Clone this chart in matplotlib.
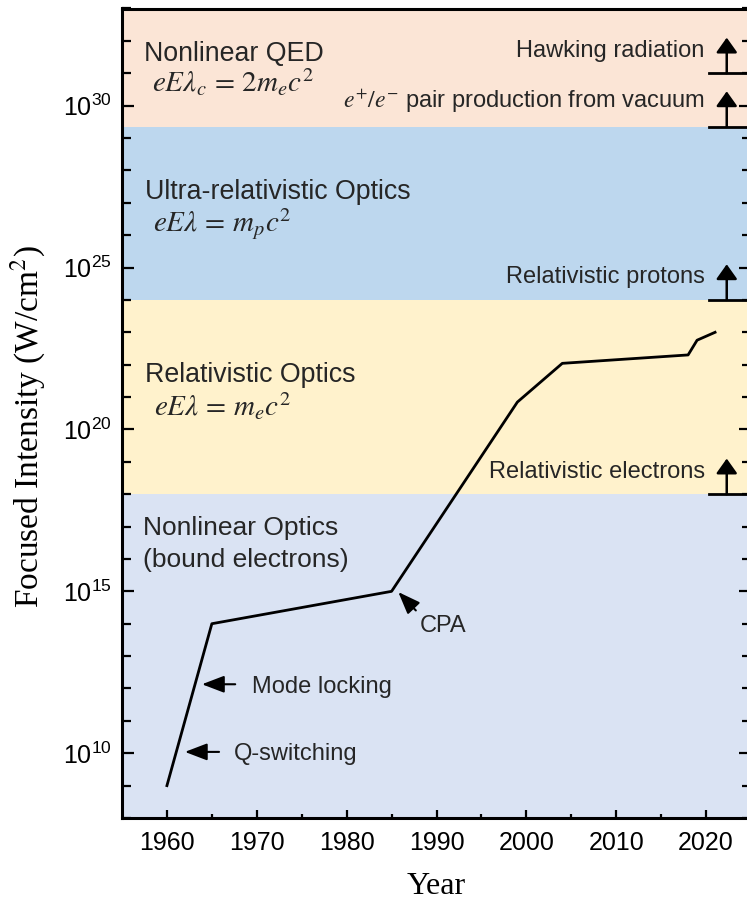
import math
import matplotlib
matplotlib.use("Agg")
import matplotlib.pyplot as plt
from matplotlib.ticker import FixedLocator, FuncFormatter

# ---------------- data ----------------
years = [1960, 1965, 1985, 1999, 2004, 2018, 2019, 2021]
intensity = [1e9, 1e14, 1e15, 7e20, 1.1e22, 2e22, 5.7e22, 1e23]

band_edges = [1e8, 1e18, 1e24, 2.2e29, 1e33]
band_colors = ["#DAE3F3", "#FFF2CC", "#BDD7EE", "#FBE5D6"]
band_names = ["Nonlinear Optics\n(bound electrons)", "Relativistic Optics",
              "Ultra-relativistic Optics", "Nonlinear QED"]
band_formulas = [None, r"$eE\lambda\,=\,m_e c^2$", r"$eE\lambda\,=\,m_p c^2$",
                 r"$eE\lambda_c\,=\,2m_e c^2$"]

threshold_labels = ["Relativistic electrons", "Relativistic protons",
                    r"$e^{+}/e^{-}$ pair production from vacuum", "Hawking radiation"]
threshold_values = [1e18, 1e24, 2.2e29, 1e31]

event_labels = ["Q-switching", "Mode locking", "CPA"]
event_years = [1962.0, 1963.9, 1985.75]
event_values = [1.1e10, 1.35e12, 9.5e14]

xticks = [1960, 1970, 1980, 1990, 2000, 2010, 2020]
xminor = [1965, 1975, 1985, 1995, 2005, 2015]
ytick_exponents = [10, 15, 20, 25, 30]
yminor_exponents = list(range(8, 34))

# ---------------- figure ----------------
plt.rcParams["font.family"] = ["Liberation Sans", "DejaVu Sans"]
plt.rcParams["mathtext.fontset"] = "stix"

fig = plt.figure(figsize=(7.47, 9.01), dpi=100)
L, R, B, T = 122 / 747, 751 / 747, 1 - 818 / 901, 1 - 8.5 / 901
ax = fig.add_axes([L, B, R - L, T - B])
ax.set_yscale("log")
ax.set_xlim(1955, 2025)
ax.set_ylim(1e8, 1e33)

for i in range(4):
    ax.axhspan(band_edges[i], band_edges[i + 1], color=band_colors[i], zorder=0, lw=0)

ax.plot(years, intensity, color="black", lw=2.0, solid_joinstyle="round", zorder=3)

txt_color = "#262626"
# region labels
lab_pos = [(1957.3, 10**16.74), (1957.6, 10**21.45), (1957.6, 10**27.12), (1957.5, 10**31.39)]
form_pos = [None, (1958.6, 10**20.42), (1958.5, 10**26.1), (1958.3, 10**30.42)]
for i in range(4):
    if i == 0:
        ax.text(lab_pos[0][0], lab_pos[0][1], "Nonlinear Optics", fontsize=19,
                color=txt_color, va="baseline", ha="left")
        ax.text(lab_pos[0][0], 10**15.76, "(bound electrons)", fontsize=19,
                color=txt_color, va="baseline", ha="left")
    else:
        ax.text(lab_pos[i][0], lab_pos[i][1], band_names[i], fontsize=19.3,
                color=txt_color, va="baseline", ha="left")
        ax.text(form_pos[i][0], form_pos[i][1], band_formulas[i], fontsize=21,
                color=txt_color, va="baseline", ha="left")

# thresholds with up arrows
thr_text_y = [10**18.49, 10**24.52, 10**29.94, 10**31.51]
for lab, v, ty in zip(threshold_labels, threshold_values, thr_text_y):
    ax.text(2019.85, ty, lab, fontsize=17, color=txt_color, ha="right", va="baseline")
    ax.annotate("", xy=(2022.3, v * 10**1.1), xytext=(2022.3, v),
                arrowprops=dict(arrowstyle="-|>,head_length=0.45,head_width=0.32",
                                mutation_scale=20, color="black", lw=1.8,
                                shrinkA=0, shrinkB=0))
    ax.plot([2020.3, 2025], [v, v], color="black", lw=2.0, clip_on=False, zorder=4)

# events with arrows
ev_tail = [(1965.8, 1.1e10), (1967.6, 1.35e12), (1987.7, 10**14.41)]
ev_text = [(1967.4, 10**9.79), (1969.5, 10**11.85), (1988.1, 10**13.74)]
for lab, ex, ev, tail, tp in zip(event_labels, event_years, event_values, ev_tail, ev_text):
    ax.annotate("", xy=(ex, ev), xytext=tail,
                arrowprops=dict(arrowstyle="-|>,head_length=0.68,head_width=0.26",
                                mutation_scale=20, color="black", lw=1.5,
                                shrinkA=0, shrinkB=0))
    ax.text(tp[0], tp[1], lab, fontsize=17, color=txt_color, ha="left", va="baseline")

# axes styling
ax.xaxis.set_major_locator(FixedLocator(xticks))
ax.xaxis.set_minor_locator(FixedLocator(xminor))
ax.yaxis.set_major_locator(FixedLocator([10.0**e for e in ytick_exponents]))
ax.yaxis.set_minor_locator(FixedLocator([10.0**e for e in yminor_exponents]))
ax.yaxis.set_major_formatter(FuncFormatter(
    lambda v, p: r"$\mathdefault{10^{%d}}$" % round(math.log10(v))))
ax.yaxis.set_minor_formatter(FuncFormatter(lambda v, p: ""))

ax.tick_params(axis="x", which="major", direction="in", length=6, width=1.6,
               labelsize=18, pad=9, top=False)
ax.tick_params(axis="x", which="minor", direction="in", length=2.8, width=1.6, top=False)
ax.tick_params(axis="y", which="major", direction="in", length=8.5, width=1.6,
               labelsize=18, pad=7, right=True)
ax.tick_params(axis="y", which="minor", direction="in", length=6.5, width=1.6, right=True)

for s in ax.spines.values():
    s.set_linewidth(2.2)

ax.set_xlabel("Year", family="Liberation Serif", fontsize=23, va="center")
ax.xaxis.set_label_coords(0.5, (818 - 886.7) / 810)
ax.set_ylabel(r"Focused Intensity (W/cm$^2$)", family="Liberation Serif", fontsize=24,
              va="center", math_fontfamily="stix")
ax.yaxis.set_label_coords((28 - 122) / 629, (818 - 426.5) / 810)

fig.savefig("out.png", dpi=100)
